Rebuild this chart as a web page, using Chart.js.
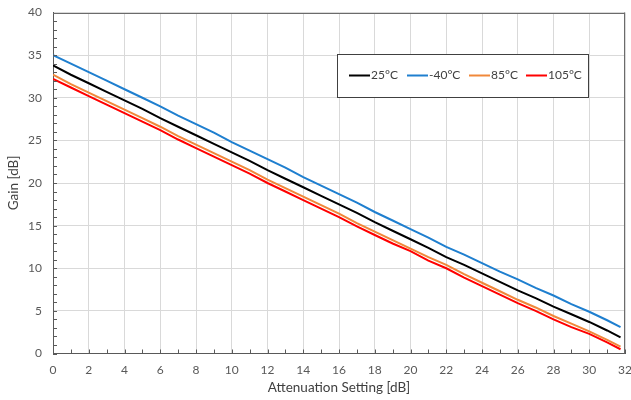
<!DOCTYPE html>
<html>
<head>
<meta charset="utf-8">
<script src="https://cdn.jsdelivr.net/npm/chart.js@4.4.1/dist/chart.umd.min.js"></script>
<style>
  html, body { margin: 0; padding: 0; background: #fff; }
  #wrap { width: 631px; height: 400px; }
</style>
</head>
<body>
<div id="wrap"><canvas id="gainChart" width="631" height="400"></canvas></div>

<script>
// attenuation setting [dB]
var atten = [0, 1, 2, 3, 4, 5, 6, 7, 8, 9, 10, 11, 12, 13, 14, 15, 16,
             17, 18, 19, 20, 21, 22, 23, 24, 25, 26, 27, 28, 29, 30, 31, 31.75];

// gain [dB] per temperature
var gain25  = [33.8, 32.7, 31.7, 30.7, 29.7, 28.7, 27.6, 26.6, 25.6, 24.6, 23.6,
               22.6, 21.5, 20.5, 19.5, 18.5, 17.5, 16.5, 15.4, 14.4, 13.4,
               12.4, 11.3, 10.4, 9.4, 8.4, 7.4, 6.5, 5.5, 4.6, 3.7, 2.7, 1.9];
var gainM40 = [35.0, 34.0, 33.0, 32.0, 31.0, 30.0, 29.0, 27.9, 26.9, 25.9, 24.8,
               23.8, 22.8, 21.8, 20.7, 19.7, 18.7, 17.7, 16.6, 15.6, 14.6,
               13.6, 12.5, 11.6, 10.6, 9.6, 8.7, 7.7, 6.8, 5.8, 4.9, 3.9, 3.1];
var gain85  = [32.7, 31.6, 30.6, 29.6, 28.6, 27.6, 26.6, 25.5, 24.5, 23.5, 22.5,
               21.5, 20.4, 19.4, 18.4, 17.4, 16.4, 15.3, 14.3, 13.3, 12.3,
               11.3, 10.4, 9.3, 8.3, 7.3, 6.3, 5.4, 4.4, 3.5, 2.6, 1.6, 0.8];
var gain105 = [32.2, 31.2, 30.2, 29.2, 28.2, 27.2, 26.2, 25.1, 24.1, 23.1, 22.1,
               21.1, 20.0, 19.0, 18.0, 17.0, 16.0, 14.9, 13.9, 12.9, 12.0,
               10.9, 10.0, 8.9, 7.9, 6.9, 5.9, 5.0, 4.0, 3.1, 2.3, 1.3, 0.5];

var seriesNames  = ['25°C', '-40°C', '85°C', '105°C'];
var seriesColors = ['#000000', '#1f7fcf', '#f0883a', '#ff0000'];

function pts(arr) {
	return atten.map(function (a, i) { return { x: a, y: arr[i] }; });
}

var FONT = 'Lato, "Open Sans", "DejaVu Sans", sans-serif';

// minor ticks, frame and in-plot legend
var decoPlugin = {
	id: 'deco',
	afterDraw: function (chart) {
		var ctx = chart.ctx, a = chart.chartArea;
		var xs = chart.scales.x, ys = chart.scales.y;
		ctx.save();
		ctx.strokeStyle = '#595959';
		ctx.lineWidth = 1;
		ctx.beginPath();
		for (var i = 0; i <= 32; i++) {
			var px = Math.round(xs.getPixelForValue(i)) + 0.5;
			ctx.moveTo(px, a.bottom);
			ctx.lineTo(px, a.bottom - 4);
		}
		for (var j = 0; j <= 40; j++) {
			var py = Math.round(ys.getPixelForValue(j)) + 0.5;
			ctx.moveTo(a.left, py);
			ctx.lineTo(a.left + 4, py);
		}
		ctx.stroke();

		// top + right frame
		ctx.strokeStyle = '#6b6b6b';
		ctx.beginPath();
		ctx.moveTo(a.left, Math.round(a.top) + 0.5);
		ctx.lineTo(a.right, Math.round(a.top) + 0.5);
		ctx.moveTo(Math.round(a.right) - 0.5, a.top);
		ctx.lineTo(Math.round(a.right) - 0.5, a.bottom);
		ctx.stroke();

		// legend box
		var bx = 337.5, by = 54.5, bw = 251, bh = 43;
		ctx.fillStyle = '#ffffff';
		ctx.fillRect(bx, by, bw, bh);
		ctx.strokeStyle = '#404040';
		ctx.strokeRect(bx, by, bw, bh);
		var starts = [349, 407, 469, 526];
		ctx.font = '12px ' + FONT;
		ctx.textBaseline = 'middle';
		ctx.textAlign = 'left';
		chart.data.datasets.forEach(function (ds, k) {
			var sx = starts[k], sy = 75.5;
			ctx.strokeStyle = ds.borderColor;
			ctx.lineWidth = 2;
			ctx.beginPath();
			ctx.moveTo(sx, sy);
			ctx.lineTo(sx + 21, sy);
			ctx.stroke();
			ctx.fillStyle = '#404040';
			ctx.fillText(ds.label, sx + 22, sy);
		});
		ctx.restore();
	}
};

var datasets = [gain25, gainM40, gain85, gain105].map(function (arr, k) {
	return {
		label: seriesNames[k],
		data: pts(arr),
		borderColor: seriesColors[k],
		backgroundColor: seriesColors[k],
		borderWidth: 2,
		pointRadius: 0,
		tension: 0,
		fill: false
	};
});

var gain_chart = new Chart(document.getElementById('gainChart'), {
	type: 'line',
	data: { datasets: datasets },
	options: {
		responsive: false,
		animation: false,
		devicePixelRatio: 1,
		layout: { padding: { top: 12.5, right: 6, left: 0, bottom: 0 } },
		plugins: {
			legend: { display: false },
			tooltip: { enabled: false }
		},
		scales: {
			x: {
				type: 'linear',
				min: 0, max: 32,
				ticks: {
					stepSize: 2,
					padding: 9,
					color: '#595959',
					font: { family: FONT, size: 12 },
					maxRotation: 0
				},
				grid: { color: '#d9d9d9', drawTicks: false },
				border: { color: '#595959', width: 1 },
				title: {
					display: true,
					text: 'Attenuation Setting [dB]',
					color: '#404040',
					font: { family: FONT, size: 13.5 },
					padding: { top: 4, bottom: 4 }
				},
				afterFit: function (s) {
					s.height = 46.5;
					s.paddingLeft = 0;
					s.paddingRight = 0;
				}
			},
			y: {
				min: 0, max: 40,
				ticks: {
					stepSize: 5,
					padding: 11,
					color: '#595959',
					font: { family: FONT, size: 12 }
				},
				grid: { color: '#d9d9d9', drawTicks: false },
				border: { color: '#595959', width: 1 },
				title: {
					display: true,
					text: 'Gain [dB]',
					color: '#404040',
					font: { family: FONT, size: 13.5 },
					padding: { top: 6, bottom: 6 }
				},
				afterFit: function (s) {
					s.width = 53;
					s.paddingTop = 0;
					s.paddingBottom = 0;
				}
			}
		}
	},
	plugins: [decoPlugin]
});
</script>
</body>
</html>
